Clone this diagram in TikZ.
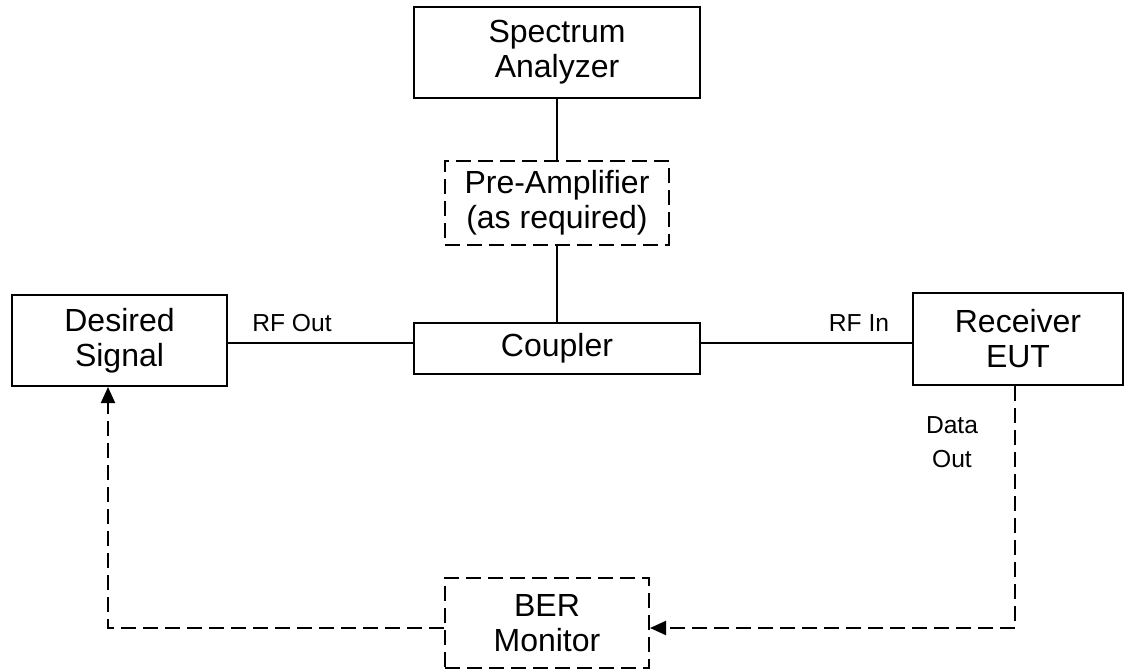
\documentclass[tikz,border=0pt]{standalone}
\usepackage{fontspec}
\setmainfont{Liberation Sans}
\usepackage{tikz}
\usetikzlibrary{arrows.meta,calc}

\begin{document}
\begin{tikzpicture}[x=0.5pt,y=-0.5pt,>={Triangle[length=8pt,width=7pt]},
	box/.style={draw,line width=1pt,inner sep=0pt,align=center,
		font=\fontsize{16}{17.5}\selectfont},
	dbox/.style={box,dash pattern=on 7.5pt off 3.5pt},
	dline/.style={line width=1pt,dash pattern=on 7.5pt off 3.5pt},
	lbl/.style={align=center,font=\fontsize{12.3}{17}\selectfont}]
	\useasboundingbox (0,0) rectangle (1126,670);

	\node[box,minimum width=143pt,minimum height=45.5pt] (spec) at (557,52.5)
		{Spectrum\\Analyzer};
	\node[dbox,minimum width=112pt,minimum height=42pt] (pre) at (557,203)
		{Pre-Amplifier\\(as required)};
	\node[box,minimum width=143pt,minimum height=25.5pt] (cpl) at (557,348.5)
		{Coupler};
	\node[box,minimum width=107.5pt,minimum height=45.5pt] (sig) at (119.5,340.5)
		{Desired\\Signal};
	\node[box,minimum width=105pt,minimum height=46pt] (eut) at (1018,339)
		{Receiver\\EUT};
	\node[dbox,minimum width=102pt,minimum height=45pt] (ber) at (547,623)
		{BER\\Monitor};

	\coordinate (rf) at (0,343);
	\coordinate (D) at (1015,628);
	\coordinate (L) at (108,628);

	\draw[line width=1pt] (spec)--(pre) (pre)--(cpl);
	\draw[line width=1pt] (sig.east|-rf)--(cpl.west|-rf) (cpl.east|-rf)--(eut.west|-rf);

	\draw[dline,->] (eut.south-|D)--(D)--(ber.east|-D);
	\draw[dline,->] (ber.west|-L)--(L)--(sig.south-|L);

	\path
		(292,323.5) node[lbl] (rfo) {RF Out}
		(859,323.5) node[lbl] (rfi) {RF In}
		(952,442) node[lbl] (dout) {Data\\Out};
\end{tikzpicture}
\end{document}
